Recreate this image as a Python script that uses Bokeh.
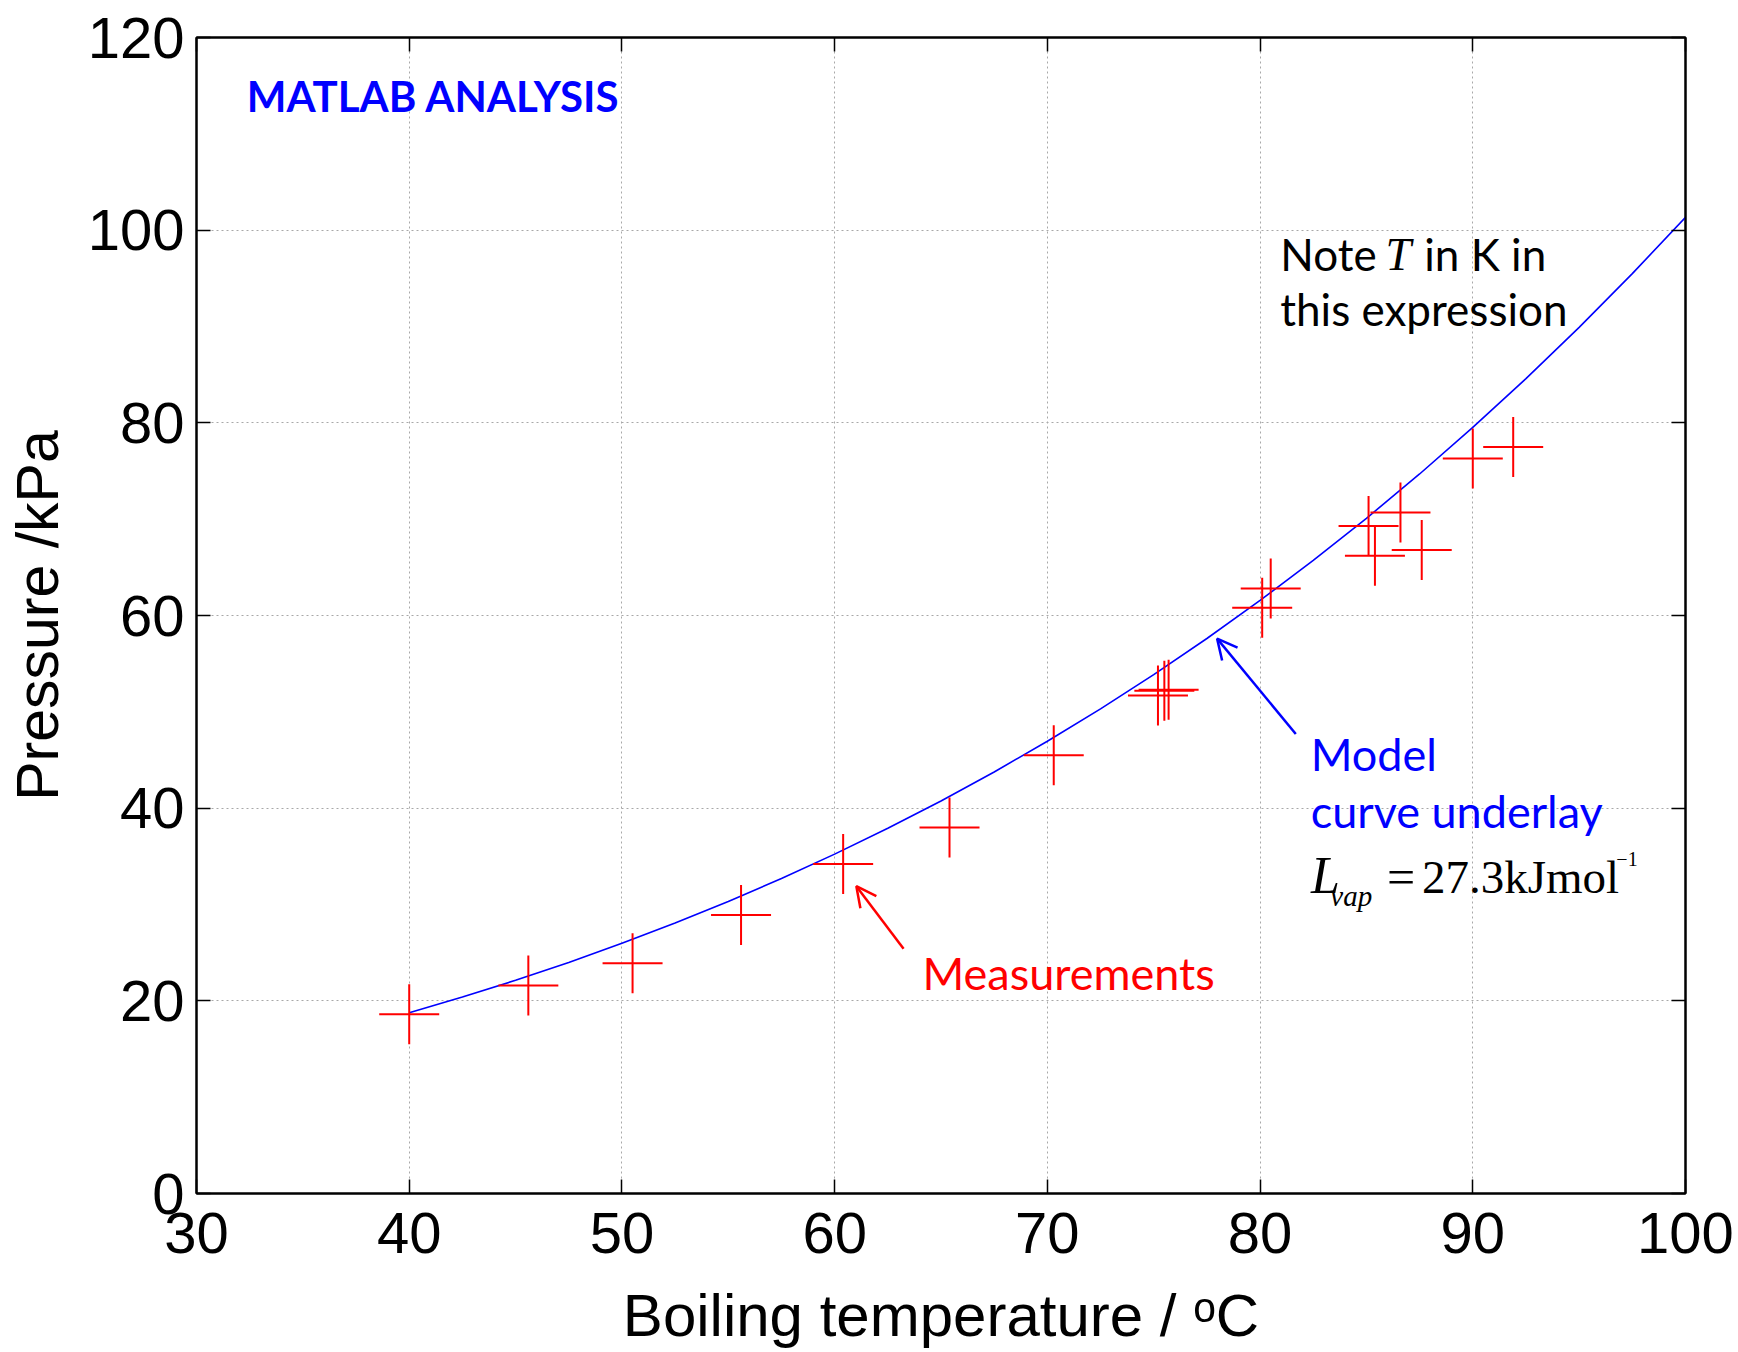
from bokeh.plotting import figure
from bokeh.models import Range1d, LinearAxis, FixedTicker, Label, Arrow, OpenHead
from bokeh.embed import file_html
from bokeh.resources import INLINE

# ---- data ----
meas_temp = [40.0, 45.6, 50.5, 55.6, 60.4, 65.4, 70.3, 75.2, 75.5, 75.7,
             80.1, 80.5, 85.1, 85.4, 86.6, 87.6, 90.0, 91.9]
meas_pres = [18.6, 21.6, 23.9, 28.9, 34.2, 38.0, 45.5, 51.7, 52.2, 52.3,
             60.8, 62.8, 69.3, 66.2, 70.7, 66.8, 76.3, 77.5]

model_temp = [40.0, 42.5, 45.0, 47.5, 50.0, 52.5, 55.0, 57.5, 60.0, 62.5, 65.0,
              67.5, 70.0, 72.5, 75.0, 77.5, 80.0, 82.5, 85.0, 87.5, 90.0,
              92.5, 95.0, 97.5, 100.0]
model_pres = [18.77, 20.40, 22.13, 23.99, 25.97, 28.07, 30.31, 32.70, 35.23,
              37.91, 40.75, 43.76, 46.95, 50.31, 53.86, 57.61, 61.56, 65.72,
              70.09, 74.69, 79.52, 84.59, 89.91, 95.49, 101.33]

x_ticks = [30, 40, 50, 60, 70, 80, 90, 100]
y_ticks = [0, 20, 40, 60, 80, 100, 120]

BLUE = "#0000ff"
RED = "#ff0000"
SANS = "Liberation Sans"
CAL = "Lato"
SERIF = "Liberation Serif"

p = figure(width=1738, height=1352,
           x_range=Range1d(30, 100), y_range=Range1d(0, 120),
           output_backend="svg", toolbar_location=None,
           min_border_left=196, min_border_right=53,
           min_border_top=37, min_border_bottom=159)
p.background_fill_color = "white"
p.border_fill_color = "white"
p.outline_line_color = "black"
p.outline_line_width = 2

# grid
for g, t in ((p.xgrid, x_ticks), (p.ygrid, y_ticks)):
    g.ticker = FixedTicker(ticks=t)
    g.grid_line_color = "#a8a8a8"
    g.grid_line_dash = "2 3"
    g.grid_line_width = 1

def style_axis(ax, ticks, show_labels):
    ax.ticker = FixedTicker(ticks=ticks)
    ax.major_tick_in = 14
    ax.major_tick_out = 0
    ax.minor_tick_line_color = None
    ax.axis_line_width = 2
    ax.axis_line_color = "black"
    ax.major_tick_line_width = 1.5
    ax.major_tick_line_color = "black"
    if show_labels:
        ax.major_label_text_font = SANS
        ax.major_label_text_font_size = "58px"
        ax.major_label_text_color = "black"
    else:
        ax.major_label_text_font_size = "10px"
        ax.major_label_text_color = None
        ax.major_label_standoff = 0

style_axis(p.xaxis[0], x_ticks, True)
style_axis(p.yaxis[0], y_ticks, True)
p.xaxis[0].major_label_standoff = 19
p.yaxis[0].major_label_standoff = 12

p.xaxis[0].axis_label = "Boiling temperature / \u1d52C"
p.yaxis[0].axis_label = "Pressure /kPa"
for ax in (p.xaxis[0], p.yaxis[0]):
    ax.axis_label_text_font = SANS
    ax.axis_label_text_font_style = "normal"
    ax.axis_label_text_color = "black"
p.xaxis[0].axis_label_text_font_size = "60px"
p.yaxis[0].axis_label_text_font_size = "59px"
p.xaxis[0].axis_label_standoff = 26
p.yaxis[0].axis_label_standoff = 14

top = LinearAxis()
style_axis(top, x_ticks, False)
p.add_layout(top, "above")
right = LinearAxis()
style_axis(right, y_ticks, False)
p.add_layout(right, "right")

# model curve and measurements
p.line(model_temp, model_pres, line_color=BLUE, line_width=1.6)
p.scatter(meas_temp, meas_pres, marker="cross", size=60,
          line_color=RED, line_width=2)

# annotations
def lab(x, y, text, font, size, color, style="normal"):
    p.add_layout(Label(x=x, y=y, text=text, text_font=font,
                       text_font_size=size, text_color=color,
                       text_font_style=style, text_baseline="alphabetic",
                       text_align="left"))

lab(32.36, 113.95, "MATLAB ANALYSIS", CAL, "42px", BLUE, "bold")

lab(80.95, 97.5, "Note", CAL, "44px", "black")
lab(85.9, 97.5, "T", SERIF, "46px", "black", "italic")
lab(87.72, 97.5, "in K in", CAL, "44px", "black")
lab(80.95, 91.8, "this expression", CAL, "44px", "black")

lab(82.38, 45.65, "Model", CAL, "45px", BLUE)
lab(82.38, 39.7, "curve underlay", CAL, "45px", BLUE)

lab(82.40, 33.0, "L", SERIF, "52px", "black", "italic")
lab(83.30, 30.9, "vap", SERIF, "29px", "black", "italic")
lab(85.97, 32.9, "=", SERIF, "50px", "black")
lab(87.61, 32.9, "27.3kJmol", SERIF, "47px", "black")
lab(96.75, 34.7, "\u22121", SERIF, "20px", "black")

lab(64.13, 22.9, "Measurements", CAL, "45px", RED)

p.add_layout(Arrow(end=OpenHead(size=20, line_color=RED, line_width=2.5),
                   x_start=63.24, y_start=25.4, x_end=61.02, y_end=31.9,
                   line_color=RED, line_width=2.5))
p.add_layout(Arrow(end=OpenHead(size=20, line_color=BLUE, line_width=2.5),
                   x_start=81.68, y_start=47.7, x_end=77.98, y_end=57.6,
                   line_color=BLUE, line_width=2.5))

open("out.html", "w").write(file_html(p, INLINE))
